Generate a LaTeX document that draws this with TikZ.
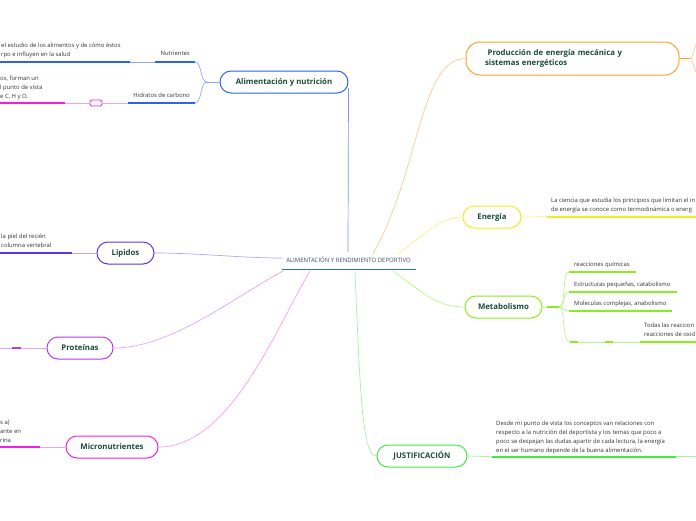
\documentclass[tikz,border=0pt]{standalone}
\usepackage{fontspec}
\setmainfont{Open Sans}
\usetikzlibrary{positioning}
\definecolor{leaf}{HTML}{1B4B3B}
\definecolor{ink}{HTML}{333333}
\definecolor{rootink}{HTML}{3C4A6E}
\definecolor{cblue}{HTML}{2F62EA}
\definecolor{lblue}{HTML}{8FAAF3}
\definecolor{cviolet}{HTML}{5A35EE}
\definecolor{lviolet}{HTML}{B5A4F7}
\definecolor{cpurple}{HTML}{B03DF0}
\definecolor{lpurple}{HTML}{DDA8F9}
\definecolor{cmagenta}{HTML}{F020E0}
\definecolor{lmagenta}{HTML}{F7A0F0}
\definecolor{corange}{HTML}{F8A530}
\definecolor{lorange}{HTML}{FBCB90}
\definecolor{cyellow}{HTML}{EEEE1E}
\definecolor{lyellow}{HTML}{F2F285}
\definecolor{clime}{HTML}{8AEE1E}
\definecolor{llime}{HTML}{BDF48C}
\definecolor{cgreen}{HTML}{3DEE3D}
\definecolor{lgreen}{HTML}{A2F4A2}
\begin{document}
\begin{tikzpicture}[x = 1pt, y = -1pt,
        topic/.style = {draw = #1, line width = 1pt, fill = white, rounded corners = 11pt, minimum height = 22pt, inner xsep = 0pt, text = leaf, font = \fontsize{7.8}{9.8}\selectfont\bfseries},
        note/.style = {inner sep = 0pt, text = ink, align = left, font = \fontsize{5.9}{8.8}\selectfont},
        twig/.style = {draw = #1, line width = 0.7pt},
        bar/.style = {draw = #1, line width = 1.6pt}]
    \useasboundingbox (0, 0) rectangle (696, 520);
    \clip (0, 0) rectangle (696, 520);
    % centre
    \node[note, font = \fontsize{6}{7}\selectfont, text = rootink] (root) at (348.5, 260) {ALIMENTACIÓN Y RENDIMIENTO DEPORTIVO};
    \coordinate (rootL) at (282, 269.5);
    \coordinate (rootR) at (416, 269.5);
    \draw[bar = cblue] (rootL) -- (rootR);
    \coordinate (hubB) at (348, 252);
    \coordinate (hubO) at (373, 254);
    \coordinate (hubY) at (398, 254);
    \coordinate (hubL) at (393, 271);
    \coordinate (hubG) at (355, 271);
    \coordinate (hubM) at (310, 271);
    \coordinate (hubP) at (283, 271);
    \coordinate (hubV) at (282, 258);
    % main topics
    \node[topic = cblue, minimum width = 128pt] (alim) at (284, 82) {Alimentación y nutrición};
    \node[topic = cviolet, minimum width = 57pt] (lip) at (125.5, 253) {Lipidos};
    \node[topic = cpurple, minimum width = 66pt] (prot) at (80, 348) {Proteínas};
    \node[topic = cmagenta, minimum width = 92pt] (micro) at (112, 447) {Micronutrientes};
    \node[topic = corange, minimum height = 33pt, rounded corners = 14pt, align = left, text width = 175pt, inner xsep = 19pt] (prod) at (572.5, 58.5) {\ Producción de energía mecánica y\\sistemas energéticos};
    \node[topic = cyellow, minimum width = 58pt] (ener) at (492, 217) {Energía};
    \node[topic = clime, minimum width = 77pt] (meta) at (503.5, 307) {Metabolismo};
    \node[topic = cgreen, minimum width = 90pt] (just) at (422, 456) {JUSTIFICACIÓN};
    \draw[twig = cblue!65] ([yshift = -6pt]alim.east) -- (hubB);
    \draw[twig = lorange] (hubO) .. controls (420, 170) and (420, 58.5) .. (prod.west);
    \draw[twig = lyellow] (hubY) .. controls (425, 235) and (440, 217) .. (ener.west);
    \draw[twig = llime] (hubL) .. controls (420, 290) and (435, 307) .. (meta.west);
    \draw[twig = lgreen] (hubG) .. controls (360, 390) and (362, 456) .. (just.west);
    \draw[twig = lmagenta] (hubM) .. controls (275, 330) and (230, 447) .. (micro.east);
    \draw[twig = lpurple] (hubP) .. controls (230, 300) and (170, 348) .. (prot.east);
    \draw[twig = lviolet] (hubV) .. controls (240, 258) and (200, 253) .. (lip.east);
    % alimentacion y nutricion
    \coordinate (alimJ) at (207, 82);
    \coordinate (nutL) at (155, 62);
    \coordinate (nutR) at (195, 62);
    \coordinate (hidL) at (128, 103);
    \coordinate (hidR) at (195, 103);
    \draw[twig = lblue] (alim.west) -- (alimJ);
    \draw[twig = lblue] (alimJ) .. controls (200, 82) and (202, 62) .. (nutR);
    \draw[twig = lblue] (alimJ) .. controls (200, 82) and (202, 103) .. (hidR);
    \draw[bar = cblue] (nutL) -- (nutR);
    \draw[bar = cblue] (hidL) -- (hidR);
    \node[note, anchor = base east] (nut) at (190, 55.5) {Nutrientes};
    \node[note, anchor = base east] (hid) at (190, 97.5) {Hidratos de carbono};
    \coordinate (nutcL) at (0, 62);
    \coordinate (nutcR) at (130, 62);
    \draw[twig = lblue] (nutcR) -- (nutL);
    \draw[bar = cblue] (nutcL) -- (nutcR);
    \node[note, anchor = base west] (nutc) at (1, 56.3) {el estudio de los alimentos y de cómo éstos\\rpo e influyen en la salud};
    \node[draw = cmagenta, line width = 0.8pt, fill = white, rounded corners = 1.5pt, minimum width = 12pt, minimum height = 6pt, inner sep = 0pt] (fold) at (96, 103) {};
    \coordinate (hidcL) at (0, 103);
    \coordinate (hidcR) at (65, 103);
    \draw[twig = lmagenta] (hidL) -- (fold.east);
    \draw[twig = lmagenta] (fold.west) -- (hidcR);
    \draw[bar = cmagenta] (hidcL) -- (hidcR);
    \node[note, anchor = base west] (hidc) at (0, 98) {os, forman un\\l punto de vista\\e C, H y O.};
    % lipidos
    \coordinate (lipcL) at (0, 253);
    \coordinate (lipcR) at (72, 253);
    \draw[twig = lviolet] (lip.west) -- (lipcR);
    \draw[bar = cviolet] (lipcL) -- (lipcR);
    \node[note, anchor = base west] (lipc) at (1, 247.3) {la piel del recién\\columna vertebral};
    % proteinas
    \coordinate (protA) at (0, 348);
    \coordinate (protB) at (12, 348);
    \coordinate (protC) at (21, 348);
    \draw[twig = lpurple] (prot.west) -- (protC);
    \draw[bar = cpurple] (protC) -- (protB);
    \draw[twig = lpurple] (protB) -- (protA);
    % micronutrientes
    \coordinate (microcL) at (0, 447);
    \coordinate (microcR) at (40, 447);
    \draw[twig = lmagenta] (micro.west) -- (microcR);
    \draw[bar = cmagenta] (microcL) -- (microcR);
    \node[note, anchor = base west] (microc) at (0, 442) {s a)\\ante en\\rina};
    % produccion de energia
    \coordinate (prodJ) at (690, 58.5);
    \coordinate (prodU) at (700, 40);
    \coordinate (prodD) at (700, 77);
    \draw[bar = corange] (prod.east) -- (prodJ);
    \draw[twig = lorange] (prodJ) .. controls (694, 58.5) and (694, 42) .. (prodU);
    \draw[twig = lorange] (prodJ) .. controls (694, 58.5) and (694, 75) .. (prodD);
    % energia
    \coordinate (enerbL) at (547, 216.7);
    \coordinate (enerbR) at (700, 216.7);
    \draw[twig = lyellow] (ener.east) -- (enerbL);
    \draw[bar = cyellow] (enerbL) -- (enerbR);
    \node[note, anchor = base west] (enerc) at (551, 211.3) {La ciencia que estudia los principios que limitan el in\\de energía se conoce como termodinámica o energ};
    % metabolismo
    \coordinate (metaJ) at (559, 307);
    \coordinate (reacL) at (569, 271.7);
    \coordinate (reacR) at (636, 271.7);
    \coordinate (estrL) at (569, 291.7);
    \coordinate (estrR) at (677, 291.7);
    \coordinate (moleL) at (569, 311);
    \coordinate (moleR) at (672, 311);
    \coordinate (todA) at (570, 342);
    \coordinate (todB) at (578, 342);
    \coordinate (todC) at (605, 342);
    \coordinate (todD) at (613, 342);
    \coordinate (todE) at (640, 342);
    \coordinate (todF) at (700, 342);
    \draw[twig = llime] (meta.east) -- (metaJ);
    \draw[bar = clime] ([xshift = 4pt]meta.east) -- (metaJ);
    \draw[twig = llime] (metaJ) .. controls (566, 307) and (562, 271.7) .. (reacL);
    \draw[twig = llime] (metaJ) .. controls (566, 307) and (562, 291.7) .. (estrL);
    \draw[twig = llime] (metaJ) .. controls (566, 307) and (562, 311) .. (moleL);
    \draw[twig = llime] (metaJ) .. controls (566, 307) and (561, 342) .. (todA);
    \draw[bar = clime] (reacL) -- (reacR);
    \draw[bar = clime] (estrL) -- (estrR);
    \draw[bar = clime] (moleL) -- (moleR);
    \draw[bar = clime] (todA) -- (todB);
    \draw[twig = llime] (todB) -- (todC);
    \draw[bar = clime] (todC) -- (todD);
    \draw[twig = llime] (todD) -- (todE);
    \draw[bar = clime] (todE) -- (todF);
    \node[note, anchor = base west] (reac) at (574, 266) {reacciones químicas};
    \node[note, anchor = base west] (estr) at (574, 286) {Estructuras pequeñas, catabolismo};
    \node[note, anchor = base west] (mole) at (574, 305) {Moleculas complejas, anabolismo};
    \node[note, anchor = base west] (tod) at (644, 336.5) {Todas las reaccion\\reacciones de oxid};
    % justificacion
    \coordinate (justbL) at (492, 456.7);
    \coordinate (justbR) at (676, 456.7);
    \coordinate (justE) at (700, 456.7);
    \draw[twig = lgreen] (just.east) -- (justbL);
    \draw[bar = cgreen] (justbL) -- (justbR);
    \draw[twig = lgreen] (justbR) -- (justE);
    \node[note, anchor = base west] (justc) at (496, 452.3) {Desde mi punto de vista los conceptos van relaciones con\\respecto a la nutrición del deportista y los temas que poco a\\poco se despejan las dudas apartir de cada lectura, la energía\\en el ser humano depende de la buena alimentación.};
\end{tikzpicture}
\end{document}
